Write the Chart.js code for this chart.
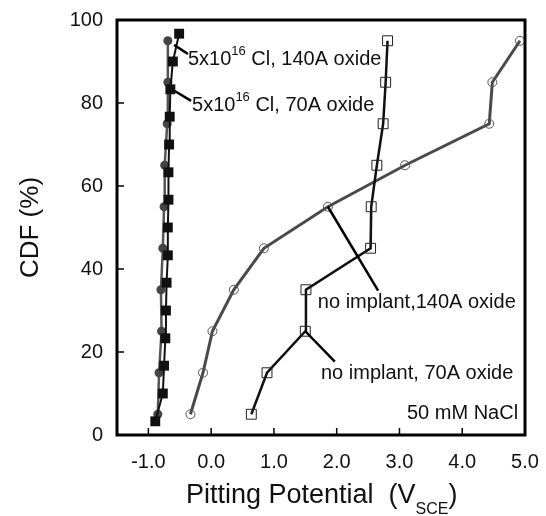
<!DOCTYPE html>
<html>
<head>
<meta charset="utf-8">
<script src="https://cdn.jsdelivr.net/npm/chart.js@4/dist/chart.umd.min.js"></script>
<style>
html,body{margin:0;padding:0;background:#fff;}
#wrap{width:546px;height:516px;position:relative;}
</style>
</head>
<body>
<div id="wrap"><canvas id="c" width="546" height="516"></canvas></div>
<script>
// ---- data ----
const cdfTen = [5, 15, 25, 35, 45, 55, 65, 75, 85, 95];
const cdfFifteen = [3.3, 10, 16.7, 23.3, 30, 36.7, 43.3, 50, 56.7, 63.3, 70, 76.7, 83.3, 90, 96.7];
const vImplantCircles = [-0.85, -0.83, -0.79, -0.80, -0.77, -0.75, -0.74, -0.70, -0.69, -0.69];
const vImplantSquares = [-0.89, -0.77, -0.75, -0.73, -0.72, -0.71, -0.69, -0.69, -0.68, -0.68, -0.67, -0.66, -0.65, -0.61, -0.51];
const vNoImplant140 = [-0.33, -0.13, 0.02, 0.36, 0.84, 1.86, 3.09, 4.43, 4.48, 4.92];
const vNoImplant70 = [0.64, 0.89, 1.50, 1.51, 2.54, 2.55, 2.64, 2.74, 2.78, 2.81];
const xTickValues = [-1, 0, 1, 2, 3, 4, 5];
const yTickValues = [0, 20, 40, 60, 80, 100];

// annotation texts and their anchor points (data units)
const labelTexts = [
  {pre: '5x10', sup: '16', post: ' Cl, 140A oxide', x: -0.37, y: 90.4},
  {pre: '5x10', sup: '16', post: ' Cl, 70A oxide', x: -0.305, y: 79.3},
  {pre: 'no implant,140A oxide', x: 1.70, y: 32.0},
  {pre: 'no implant, 70A oxide', x: 1.75, y: 14.9},
  {pre: '50 mM NaCl', x: 4.89, y: 5.3, align: 'right'}
];
const pointerLines = [
  [[-0.59, 94.0], [-0.37, 91.8]],
  [[-0.58, 82.9], [-0.32, 80.5]],
  [[1.86, 55.0], [2.66, 34.8]],
  [[1.50, 25.0], [1.97, 17.7]]
];

const FONT = '"Liberation Sans", Arial, Helvetica, sans-serif';

function pts(xs, ys) { return xs.map((v, i) => ({x: v, y: ys[i]})); }

const decor = {
  id: 'decor',
  afterDatasetsDraw(chart) {
    const ctx = chart.ctx, a = chart.chartArea;
    const xs = chart.scales.x, ys = chart.scales.y;
    ctx.save();
    // pointer lines
    ctx.strokeStyle = '#000';
    ctx.lineWidth = 2.5;
    ctx.lineCap = 'butt';
    pointerLines.forEach(l => {
      ctx.beginPath();
      ctx.moveTo(xs.getPixelForValue(l[0][0]), ys.getPixelForValue(l[0][1]));
      ctx.lineTo(xs.getPixelForValue(l[1][0]), ys.getPixelForValue(l[1][1]));
      ctx.stroke();
    });
    // texts
    ctx.fillStyle = '#111';
    ctx.textBaseline = 'middle';
    labelTexts.forEach(t => {
      const px = xs.getPixelForValue(t.x), py = ys.getPixelForValue(t.y);
      ctx.font = '20px ' + FONT;
      if (t.align === 'right') {
        ctx.textAlign = 'right';
        ctx.fillText(t.pre, px, py);
        return;
      }
      ctx.textAlign = 'left';
      let cx = px;
      ctx.fillText(t.pre, cx, py);
      cx += ctx.measureText(t.pre).width;
      if (t.sup) {
        ctx.font = '13px ' + FONT;
        ctx.fillText(t.sup, cx, py - 8);
        cx += ctx.measureText(t.sup).width;
        ctx.font = '20px ' + FONT;
        ctx.fillText(t.post, cx, py);
      }
    });
    // frame
    ctx.strokeStyle = '#000';
    ctx.lineWidth = 3;
    ctx.strokeRect(a.left, a.top, a.right - a.left, a.bottom - a.top);
    // inward ticks
    ctx.lineWidth = 1.5;
    xTickValues.forEach(v => {
      const p = xs.getPixelForValue(v);
      if (p <= a.left + 2 || p >= a.right - 2) return;
      ctx.beginPath(); ctx.moveTo(p, a.bottom); ctx.lineTo(p, a.bottom - 7); ctx.stroke();
    });
    yTickValues.forEach(v => {
      const p = ys.getPixelForValue(v);
      if (p <= a.top + 2 || p >= a.bottom - 2) return;
      ctx.beginPath(); ctx.moveTo(a.left, p); ctx.lineTo(a.left + 7, p); ctx.stroke();
    });
    // axis titles
    ctx.fillStyle = '#111';
    ctx.font = '27px ' + FONT;
    ctx.textAlign = 'left';
    ctx.textBaseline = 'alphabetic';
    let tx = 186, ty = 503;
    const main = 'Pitting Potential  (V';
    ctx.fillText(main, tx, ty);
    tx += ctx.measureText(main).width;
    ctx.font = '16px ' + FONT;
    ctx.fillText('SCE', tx, ty + 11);
    tx += ctx.measureText('SCE').width;
    ctx.font = '27px ' + FONT;
    ctx.fillText(')', tx, ty);
    ctx.font = '26px ' + FONT;
    ctx.save();
    ctx.translate(38, (a.top + a.bottom) / 2);
    ctx.rotate(-Math.PI / 2);
    ctx.textAlign = 'center';
    ctx.fillText('CDF (%)', 0, 0);
    ctx.restore();
    ctx.restore();
  }
};

new Chart(document.getElementById('c'), {
  type: 'scatter',
  data: {
    datasets: [
      {
        label: 'no implant, 140A oxide',
        data: pts(vNoImplant140, cdfTen),
        showLine: true,
        borderColor: '#4a4a4a',
        borderWidth: 3,
        pointStyle: 'circle',
        pointRadius: 4.5,
        pointBorderWidth: 1,
        pointBorderColor: '#555',
        pointBackgroundColor: 'rgba(0,0,0,0)',
        order: 4
      },
      {
        label: 'no implant, 70A oxide',
        data: pts(vNoImplant70, cdfTen),
        showLine: true,
        borderColor: '#111',
        borderWidth: 2.5,
        pointStyle: 'rect',
        pointRadius: 7,
        pointBorderWidth: 1,
        pointBorderColor: '#222',
        pointBackgroundColor: 'rgba(0,0,0,0)',
        order: 3
      },
      {
        label: '5x10^16 Cl (circles)',
        data: pts(vImplantCircles, cdfTen),
        showLine: true,
        borderColor: '#555',
        borderWidth: 2.5,
        pointStyle: 'circle',
        pointRadius: 4.5,
        pointBorderWidth: 0,
        pointBackgroundColor: '#444',
        order: 2
      },
      {
        label: '5x10^16 Cl (squares)',
        data: pts(vImplantSquares, cdfFifteen),
        showLine: true,
        borderColor: '#111',
        borderWidth: 2,
        pointStyle: 'rect',
        pointRadius: 7,
        pointBorderWidth: 0,
        pointBackgroundColor: '#111',
        order: 1
      }
    ]
  },
  options: {
    responsive: false,
    animation: false,
    layout: {padding: {top: 20, right: 21, left: 0, bottom: 0}},
    plugins: {legend: {display: false}, tooltip: {enabled: false}},
    elements: {line: {tension: 0}},
    scales: {
      x: {
        type: 'linear',
        min: -1.5, max: 5,
        grid: {display: false, drawTicks: false},
        border: {display: false},
        afterBuildTicks: s => { s.ticks = xTickValues.map(v => ({value: v})); },
        afterFit: s => { s.height = 81; s.paddingLeft = 0; s.paddingRight = 0; },
        ticks: {
          padding: 15,
          color: '#111',
          font: {size: 20, family: FONT},
          maxRotation: 0,
          callback: v => Number(v).toFixed(1)
        }
      },
      y: {
        type: 'linear',
        min: 0, max: 100,
        grid: {display: false, drawTicks: false},
        border: {display: false},
        afterBuildTicks: s => { s.ticks = yTickValues.map(v => ({value: v})); },
        afterFit: s => { s.width = 117; s.paddingTop = 0; s.paddingBottom = 0; },
        ticks: {
          padding: 14,
          color: '#111',
          font: {size: 20, family: FONT}
        }
      }
    }
  },
  plugins: [decor]
});
</script>
</body>
</html>
